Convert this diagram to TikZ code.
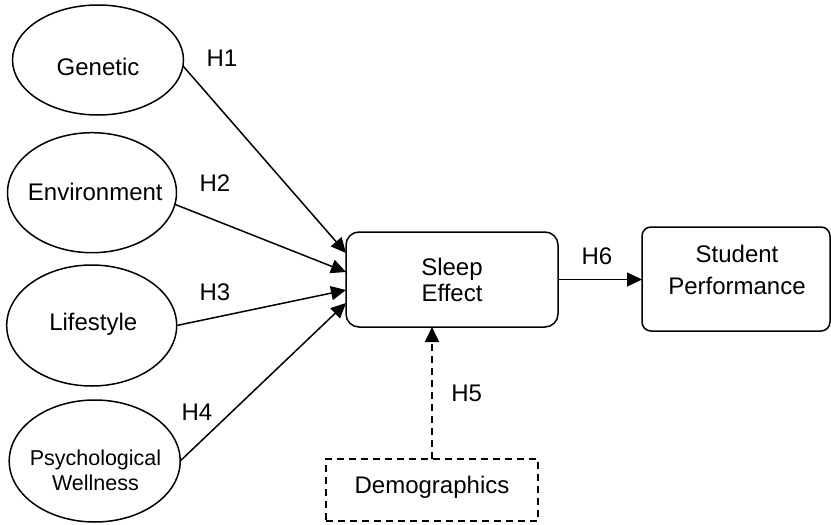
\documentclass[tikz,border=0pt]{standalone}
\usepackage{fontspec}
\setmainfont{Liberation Sans}
\usetikzlibrary{arrows.meta,calc,shapes.geometric}
\begin{document}
\begin{tikzpicture}[x=1pt,y=-1pt,
  every node/.style={inner sep=0pt, outer sep=0pt},
  oval/.style={draw, ellipse, line width=1.5pt},
  rbox/.style={draw, rectangle, line width=1.5pt},
  txt/.style={anchor=base, font=\fontsize{24}{28}\selectfont},
  smalltxt/.style={anchor=base, font=\fontsize{21.5}{25}\selectfont},
  link/.style={line width=1.5pt, -{Triangle[length=15pt,width=14pt]}},
  dlink/.style={link, dash pattern=on 7pt off 5pt},
]
\useasboundingbox (0,0) rectangle (831,525);

% ellipses
\node[oval, minimum width=171pt, minimum height=110pt] (gen) at (98,60) {};
\node[oval, minimum width=169pt, minimum height=120pt] (env) at (92,192.7) {};
\node[oval, minimum width=170pt, minimum height=121pt] (life) at (91.7,325.5) {};
\node[oval, minimum width=171pt, minimum height=122pt] (psy) at (94.7,461) {};

\node[txt] (tgen) at (98,75) {Genetic};
\node[txt] (tenv) at (95.3,200) {Environment};
\node[txt] (tlife) at (93.3,330.7) {Lifestyle};
\node[smalltxt] (tpsy1) at (95.5,465) {Psychological};
\node[smalltxt] (tpsy2) at (95.5,490.7) {Wellness};

% boxes
\node[rbox, rounded corners=13pt, minimum width=212pt, minimum height=95pt] (sleep) at (452,279.5) {};
\node[txt] (tsl1) at (452,275) {Sleep};
\node[txt] (tsl2) at (452,301.7) {Effect};

\node[rbox, rounded corners=9pt, minimum width=188pt, minimum height=104pt] (stud) at (736,279) {};
\node[txt] (tst1) at (737,262.7) {Student};
\node[txt] (tst2) at (737,294) {Performance};

\node[rbox, dash pattern=on 7pt off 5pt, minimum width=212pt, minimum height=62pt] (demo) at (432,490) {};
\node[txt] (tdemo) at (432,493.3) {Demographics};

% connectors
\draw[link] (gen.-4) -- ($(sleep.west)+(0,-26.5)$);
\draw[link] (env.-8) -- ($(sleep.west)+(0,-7.5)$);
\draw[link] (life.east) -- ($(sleep.west)+(0,10.5)$);
\draw[link] (psy.east) -- ($(sleep.west)+(0,23.5)$);
\draw[link] (sleep.east) -- (sleep.east -| stud.west);
\draw[dlink] (demo.north) -- (demo.north |- sleep.south);

% labels
\node[txt] (h1) at (222,66.7) {H1};
\node[txt] (h2) at (215,191.7) {H2};
\node[txt] (h3) at (215,300) {H3};
\node[txt] (h4) at (197,420) {H4};
\node[txt] (h5) at (466.7,401.7) {H5};
\node[txt] (h6) at (597,264) {H6};
\end{tikzpicture}
\end{document}
